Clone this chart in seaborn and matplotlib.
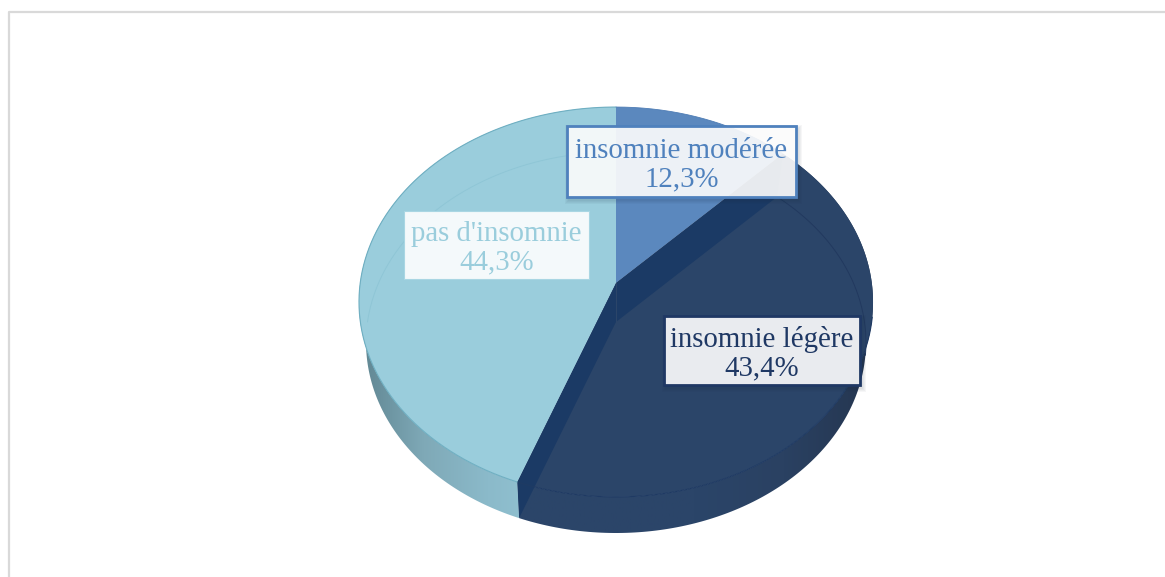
import numpy as np
import matplotlib
matplotlib.use("Agg")
import matplotlib.pyplot as plt
from matplotlib.patches import Polygon, Rectangle
import seaborn as sns

# ===============================
# Data (clockwise from 12 o'clock)
# ===============================
categories = ["insomnie modérée", "insomnie légère", "pas d'insomnie"]
percents = [12.3, 43.4, 44.3]
slice_colors = ["#5B88BE", "#2B4569", "#9ACDDC"]
text_colors = ["#4F81BD", "#1F3864", "#9ACDDC"]

# pie geometry, pixels
CX = 616
TOP_DISK = dict(apex=283, a=255.8, c=193.1, k=0.0974)
BOTTOM_DISK = dict(apex=322, a=248.5, c=188.3, k=0.1076)

sns.set_theme(style="white")
plt.rcParams['font.family'] = ['Liberation Serif', 'DejaVu Serif']


def project(theta, disk):
    # perspective view of a circle, theta in degrees clockwise from the top
    t = np.radians(theta)
    s = 1 + disk["k"] * np.cos(t)
    return np.column_stack([CX + disk["a"] * np.sin(t) / s,
                            disk["apex"] - disk["c"] * np.cos(t) / s])


def arc(t0, t1, disk):
    return project(np.linspace(t0, t1, 180), disk)


def gradient_fill(ax, points, colors, zorder):
    # horizontal gradient clipped to a polygon
    patch = Polygon(points, closed=True, facecolor="none", edgecolor="none", zorder=zorder)
    ax.add_patch(patch)
    ramp = np.array(sns.blend_palette(colors, n_colors=256))[None, :, :]
    x0, x1 = points[:, 0].min(), points[:, 0].max()
    y0, y1 = points[:, 1].min(), points[:, 1].max()
    im = ax.imshow(ramp, extent=(x0, x1, y1, y0), aspect="auto", zorder=zorder)
    im.set_clip_path(patch)


fig = plt.figure(figsize=(11.65, 5.77), dpi=100)
ax = fig.add_axes([0, 0, 1, 1])

# slice boundaries from the values
edges = np.concatenate([[0], np.cumsum(percents)]) * 3.6
cut1, cut2 = edges[1], edges[2]

# outer wall
dark_wall = np.vstack([arc(cut1, cut2, TOP_DISK), arc(cut2, cut1, BOTTOM_DISK)])
light_wall = np.vstack([arc(cut2, 360, TOP_DISK), arc(360, cut2, BOTTOM_DISK)])
gradient_fill(ax, dark_wall, ["#2B4569", "#2B4569", "#2B4569", "#2A4162", "#253650"], 1)
gradient_fill(ax, light_wall, ["#5F8591", "#7FA9B7", "#8BBACA", "#93C4D3", "#8FBFCF"], 1)

# top faces
top_apex = project(np.array([0.0]), dict(TOP_DISK, a=0, c=0))
for i, color in enumerate(slice_colors):
    pts = np.vstack([top_apex, arc(edges[i], edges[i + 1], TOP_DISK)])
    ax.add_patch(Polygon(pts, closed=True, facecolor=color, edgecolor="none", zorder=2))

# inner cut faces, seen through the top
bottom_apex = project(np.array([0.0]), dict(BOTTOM_DISK, a=0, c=0))
for cut in [cut1, cut2]:
    pts = np.vstack([top_apex, project(np.array([cut]), TOP_DISK),
                     project(np.array([cut]), BOTTOM_DISK), bottom_apex])
    ax.add_patch(Polygon(pts, closed=True, facecolor="#1B3A65", edgecolor="none", zorder=3))
    ax.plot(pts[[0, 3], 0], pts[[0, 3], 1], color="#2B4569", lw=0.8, zorder=3.1)

# faint outlines
ax.plot(*arc(270, 360, BOTTOM_DISK).T, color="#8FC6D6", lw=0.7, zorder=4)
ax.plot(*arc(cut1, 100, BOTTOM_DISK).T, color="#22395F", lw=0.7, zorder=4)
ax.plot(*arc(100, cut2, TOP_DISK).T, color="#1F3A63", lw=0.8, zorder=4)
ax.plot(*arc(cut2, 360, TOP_DISK).T, color="#6FAFC2", lw=0.8, zorder=4)
ax.plot(*arc(0, cut1, TOP_DISK).T, color="#4F7DB5", lw=0.6, zorder=4)

# data labels
label_boxes = [(567, 126, 229, 71), (664, 316, 196, 69), (404, 211, 185, 68)]
box_edges = ["#4F81BD", "#1F3864", "#A9D6E3"]
box_widths = [2.0, 2.0, 0.8]
box_shadows = [True, True, False]
for i, (x, y, w, h) in enumerate(label_boxes):
    if box_shadows[i]:
        for grow in [8, 6, 4, 2]:
            ax.add_patch(Rectangle((x + 2 - grow / 2, y + 3 - grow / 2), w + grow, h + grow,
                                   facecolor="#1A2A40", edgecolor="none", alpha=0.04, zorder=5))
    ax.add_patch(Rectangle((x, y), w, h, facecolor=(1, 1, 1, 0.9), edgecolor=box_edges[i],
                           lw=box_widths[i], zorder=6))
    value = f"{percents[i]:.1f}%".replace(".", ",")
    ax.text(x + w / 2, y + h / 2 + 3.5, f"{categories[i]}\n{value}", color=text_colors[i],
            fontsize=20.8, ha="center", va="center", linespacing=1.12, zorder=7)

# outer frame
ax.plot([9, 9, 1165], [577, 12, 12], color="#D9D9D9", lw=1.6, zorder=0)

ax.set_xlim(0, 1165)
ax.set_ylim(577, 0)
ax.axis("off")
sns.despine(ax=ax, left=True, bottom=True)

fig.savefig("out.png", dpi=100, facecolor="white")
